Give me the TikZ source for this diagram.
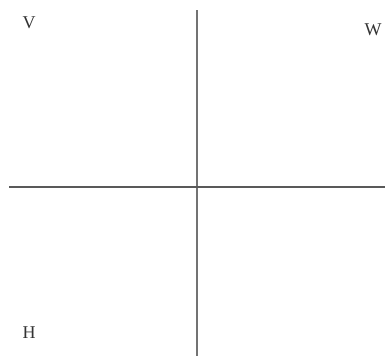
\documentclass[tikz,border=0pt]{standalone}
\usepackage{fontspec}
\setmainfont{Liberation Serif}
\begin{document}
\begin{tikzpicture}[x=1pt,y=-1pt,
  axis/.style={draw=black!55,line width=1.3pt},
  lbl/.style={font=\fontsize{18}{20}\selectfont,text=black!80,inner sep=0pt}]
\useasboundingbox (0,0) rectangle (385,356);
\coordinate (vt) at (197,10);
\coordinate (vb) at (197,356);
\coordinate (hl) at (9,187);
\coordinate (hr) at (385,187);
\draw[axis] (vt) -- (vb);
\draw[axis,draw=black!65] (hl) -- (hr);
\node[lbl] (V) at (29,23) {V};
\node[lbl] (W) at (373,30) {W};
\node[lbl] (H) at (29,333) {H};
\end{tikzpicture}
\end{document}
